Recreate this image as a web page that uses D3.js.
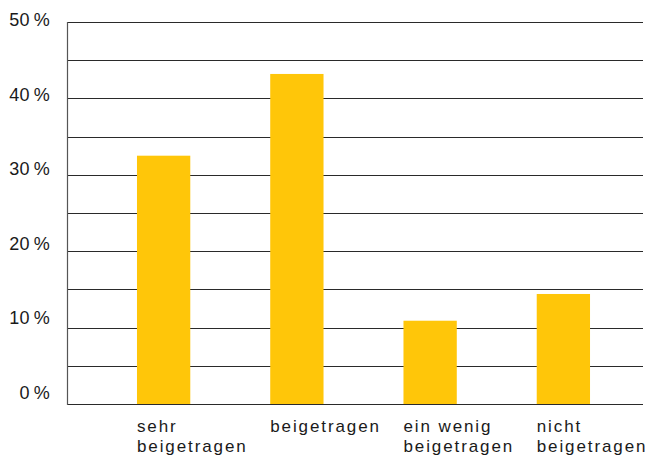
<!DOCTYPE html>
<html>
<head>
<meta charset="utf-8">
<script src="https://cdn.jsdelivr.net/npm/d3@7"></script>
<style>
html,body{margin:0;padding:0;background:#fff;}
svg{display:block;}
</style>
</head>
<body>
<svg id="chart" width="651" height="456"></svg>
<script>
const categories = [["sehr","beigetragen"],["beigetragen"],["ein wenig","beigetragen"],["nicht","beigetragen"]];
const values = [32.5, 43.2, 10.9, 14.4];
const tickValues = [0,10,20,30,40,50];
const gridValues = [0,5,10,15,20,25,30,35,40,45,50];

(function(){
const svg = d3.select("#chart");
const mLeft = 67.5, mRight = 643, mTop = 22, mBottom = 404;

const y = d3.scaleLinear().domain([0,50]).range([mBottom, mTop]);
const yLabel = d3.scaleLinear().domain([0,50]).range([399, 26]);
const x = d3.scaleBand().domain(d3.range(values.length)).range([97, 630]).paddingInner(0.6).paddingOuter(0.3);

svg.append("g").selectAll("line").data(gridValues).join("line")
  .attr("x1", mLeft).attr("x2", mRight)
  .attr("y1", d => Math.round(y(d)) + 0.5).attr("y2", d => Math.round(y(d)) + 0.5)
  .attr("stroke", "#2a2a2a").attr("stroke-width", 1.2);

svg.append("line").attr("x1", mLeft).attr("x2", mLeft).attr("y1", mTop).attr("y2", mBottom + 1)
  .attr("stroke", "#555").attr("stroke-width", 1.2);

svg.append("g").selectAll("rect").data(values).join("rect")
  .attr("x", (d,i) => x(i)).attr("width", x.bandwidth())
  .attr("y", d => y(d)).attr("height", d => y(0) - y(d))
  .attr("fill", "#FFC609");

svg.append("g").selectAll("text").data(tickValues).join("text")
  .attr("x", 50).attr("y", d => yLabel(d))
  .attr("text-anchor", "end")
  .attr("font-family", "Liberation Sans, Arial, sans-serif")
  .attr("font-size", 18).attr("letter-spacing", 0.3).attr("fill", "#1a1a1a")
  .text(d => d + "\u2009%");

const lab = svg.append("g").selectAll("text").data(categories).join("text")
  .attr("x", (d,i) => x(i)).attr("y", 432)
  .attr("font-family", "Liberation Sans, Arial, sans-serif")
  .attr("font-size", 17).attr("letter-spacing", 1.9).attr("fill", "#1a1a1a");
lab.selectAll("tspan").data(d => d).join("tspan")
  .attr("x", function(){ return d3.select(this.parentNode).attr("x"); })
  .attr("dy", (d,i) => i === 0 ? 0 : 20)
  .text(d => d);
})();
</script>
</body>
</html>
